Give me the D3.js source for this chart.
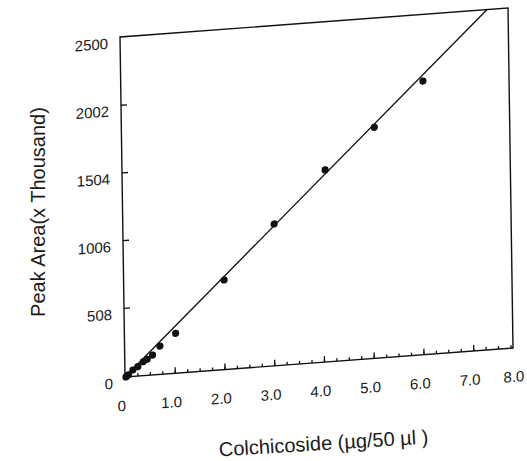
<html lang="en">
	<head>
		<meta charset="utf-8">
		<title>Colchicoside calibration</title>
		<script src="https://d3js.org/d3.v7.min.js"></script>
		<style type="text/css">
			body {
				margin: 0;
				background-color: white;
			}
			text {
				font-family: "Liberation Sans", Arial, sans-serif;
				fill: #1a1a1a;
			}
		</style>
	</head>
	<body>
		<script type="text/javascript">

			//Measured points (amount, peak area in thousands)
			var amounts = [0.02, 0.07, 0.16, 0.26, 0.37, 0.45, 0.56, 0.71, 1.03, 2.02, 3.04, 4.08, 5.08, 6.07];
			var peakAreas = [0, 13, 47, 69, 102, 118, 146, 208, 293, 658, 1042, 1411, 1697, 2010];

			//Fitted line end points
			var fitX = [0, 7.38];
			var fitY = [0, 2500];

			//Tick labels
			var xTickValues = [0, 1, 2, 3, 4, 5, 6, 7, 8];
			var xTickLabels = ["0", "1.0", "2.0", "3.0", "4.0", "5.0", "6.0", "7.0", "8.0"];
			var yTickValues = [0, 508, 1006, 1504, 2002, 2500];
			var yTickLabels = ["0", "508", "1006", "1504", "2002", "2500"];

			//Width and height
			var w = 527;
			var h = 461;
			var pw = 388;
			var ph = 340;

			//Create scale functions
			var xScale = d3.scaleLinear()
					.domain([0, 7.8])
					.range([0, pw]);

			var yScale = d3.scaleLinear()
					.domain([0, 2500])
					.range([ph, 0]);

			//Create SVG element
			var svg = d3.select("body")
						.append("svg")
						.attr("width", w)
						.attr("height", h);

			svg.append("rect")
				.attr("width", w)
				.attr("height", h)
				.attr("fill", "white");

			//the scanned plot is a bit skewed, so the plot lives in a sheared group
			var plot = svg.append("g")
				.attr("transform", "matrix(1,-0.0747,0.0147,1,120,37)");

			//Frame
			plot.append("rect")
				.attr("width", pw)
				.attr("height", ph)
				.attr("fill", "none")
				.attr("stroke", "#111")
				.attr("stroke-width", 1.4);

			//X minor ticks
			var xMinor = d3.axisBottom()
				.scale(xScale)
				.tickValues(d3.range(0.25, 7.8, 0.25))
				.tickSize(-3)
				.tickFormat("");

			//X major ticks
			var xMajor = d3.axisBottom()
				.scale(xScale)
				.tickValues(d3.range(1, 8, 1))
				.tickSize(-6)
				.tickFormat("");

			//Y ticks
			var yAxis = d3.axisLeft()
				.scale(yScale)
				.tickValues(yTickValues.slice(1, 5))
				.tickSize(-6)
				.tickFormat("");

			plot.append("g")
				.attr("transform", "translate(0," + ph + ")")
				.call(xMinor);
			plot.append("g")
				.attr("transform", "translate(0," + ph + ")")
				.call(xMajor);
			plot.append("g")
				.call(yAxis);

			plot.selectAll(".domain").remove();
			plot.selectAll(".tick line")
				.attr("stroke", "#111")
				.attr("stroke-width", 1.3);

			//X tick labels (last one pulled in so it stays on the page)
			var lastX = xTickValues.length - 1;
			plot.selectAll("text.xlab")
				.data(xTickValues)
				.enter()
				.append("text")
				.attr("class", "xlab")
				.attr("x", function(d, i) { return i == lastX ? xScale(d) + 1 : xScale(d) - 3.5; })
				.attr("y", ph + 34)
				.attr("text-anchor", function(d, i) { return i == lastX ? "end" : "middle"; })
				.attr("font-size", "15px")
				.text(function(d, i) { return xTickLabels[i]; });

			//Y tick labels
			plot.selectAll("text.ylab")
				.data(yTickValues)
				.enter()
				.append("text")
				.attr("class", "ylab")
				.attr("x", -12)
				.attr("y", function(d) { return yScale(d) + 11; })
				.attr("text-anchor", "end")
				.attr("font-size", "15px")
				.text(function(d, i) { return yTickLabels[i]; });

			//Fitted line
			var line = d3.line()
				.x(function(d) { return xScale(d[0]); })
				.y(function(d) { return yScale(d[1]); });

			plot.append("path")
				.datum(d3.zip(fitX, fitY))
				.attr("d", line)
				.attr("fill", "none")
				.attr("stroke", "#111")
				.attr("stroke-width", 1.4);

			//Create circles
			plot.selectAll("circle")
				.data(d3.zip(amounts, peakAreas))
				.enter()
				.append("circle")
				.attr("cx", function(d) { return xScale(d[0]); })
				.attr("cy", function(d) { return yScale(d[1]); })
				.attr("r", 3.6)
				.attr("fill", "#111");

			//Axis titles
			svg.append("text")
				.attr("transform", "translate(45,212) rotate(-90)")
				.attr("text-anchor", "middle")
				.attr("font-size", "20px")
				.text("Peak Area(x Thousand)");

			svg.append("text")
				.attr("transform", "translate(324,450) rotate(-3.5)")
				.attr("text-anchor", "middle")
				.attr("font-size", "20px")
				.text("Colchicoside (\u00b5g/50 \u00b5l  )");

		</script>
	</body>
</html>
